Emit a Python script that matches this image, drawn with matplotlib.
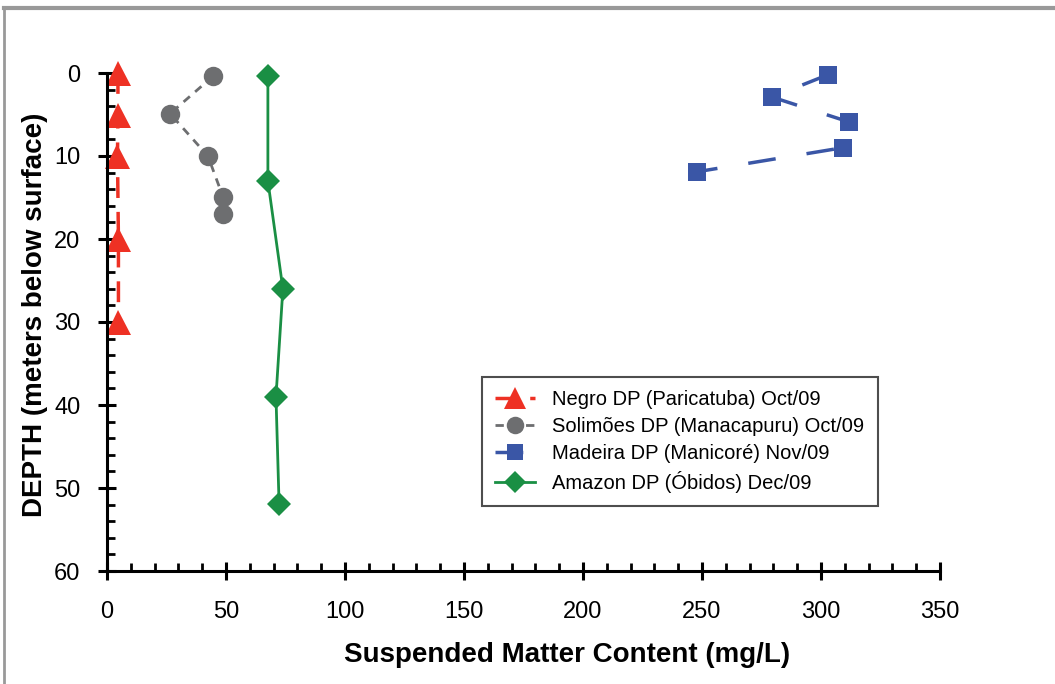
import matplotlib
matplotlib.use("Agg")
import matplotlib.pyplot as plt
from matplotlib.lines import Line2D
from matplotlib.ticker import MultipleLocator

plt.rcParams['font.family'] = ['Liberation Sans', 'DejaVu Sans']

negro_x = [4.6, 4.6, 4.4, 4.8, 4.8]
negro_y = [0, 5, 10, 20, 30]
solimoes_x = [44.5, 26.5, 42.4, 48.7, 48.7]
solimoes_y = [0.4, 4.9, 10.0, 14.9, 17.0]
madeira_x = [303.0, 279.4, 311.8, 309.2, 247.9]
madeira_y = [0.2, 2.9, 5.9, 9.0, 11.9]
amazon_x = [67.6, 67.6, 73.9, 71.0, 72.3]
amazon_y = [0.4, 13.0, 26.0, 39.0, 51.9]

labels = ["Negro DP (Paricatuba) Oct/09",
          "Solimões DP (Manacapuru) Oct/09",
          "Madeira DP (Manicoré) Nov/09",
          "Amazon DP (Óbidos) Dec/09"]

red = '#EE3124'
gray = '#6D6E70'
blue = '#3A56A6'
green = '#1A8F44'

fig = plt.figure(figsize=(10.55, 6.84), dpi=100)
ax = fig.add_axes([107/1055, 1-571/684, (940-107)/1055, (571-73)/684])

ax.plot(negro_x, negro_y, color=red, lw=2.5, ls=(0, (6, 4)), marker='^', ms=18,
        markeredgewidth=0, label=labels[0], clip_on=False)
ax.plot(solimoes_x, solimoes_y, color=gray, lw=2, ls=(0, (3, 2.5)), marker='o', ms=14,
        markeredgewidth=0, label=labels[1], clip_on=False)
ax.plot(madeira_x, madeira_y, color=blue, lw=2.5, ls=(0, (8, 9)), marker='s', ms=13,
        markeredgewidth=0, label=labels[2], clip_on=False)
ax.plot(amazon_x, amazon_y, color=green, lw=2, ls='-', marker='D', ms=12.5,
        markeredgewidth=0, label=labels[3], clip_on=False)

ax.set_xlim(0, 350)
ax.set_ylim(60, 0)
ax.xaxis.set_major_locator(MultipleLocator(50))
ax.xaxis.set_minor_locator(MultipleLocator(10))
ax.yaxis.set_major_locator(MultipleLocator(10))
ax.yaxis.set_minor_locator(MultipleLocator(2))

for s in ['top', 'right']:
    ax.spines[s].set_visible(False)
for s in ['left', 'bottom']:
    ax.spines[s].set_linewidth(2.2)
ax.tick_params(which='major', direction='inout', length=13, width=2.2, labelsize=17)
ax.tick_params(which='minor', direction='in', length=6, width=2)
ax.tick_params(axis='x', which='major', pad=15)
ax.tick_params(axis='y', which='major', pad=12.5)

fig.text(567/1055, 1-655/684, 'Suspended Matter Content (mg/L)', fontsize=20,
         fontweight='bold', ha='center', va='center')
fig.text(35/1055, 1-315/684, 'DEPTH (meters below surface)', fontsize=20,
         fontweight='bold', ha='center', va='center', rotation=90)

leg = ax.legend(loc='upper left', bbox_to_anchor=((482-107)/833, 1-(377-73)/498),
                fontsize=14.5, frameon=True, fancybox=False, edgecolor='#222222',
                handlelength=2.0, handletextpad=0.85, borderpad=0.65, labelspacing=0.4,
                borderaxespad=0, markerscale=0.9)
leg.get_frame().set_linewidth(1.5)

fig.lines.append(Line2D([4/1055, 4/1055], [0, 1-8/684], transform=fig.transFigure,
                        color='#999999', lw=2))
fig.lines.append(Line2D([4/1055, 1], [1-8/684, 1-8/684], transform=fig.transFigure,
                        color='#999999', lw=3))

fig.savefig('out.png', dpi=100)
